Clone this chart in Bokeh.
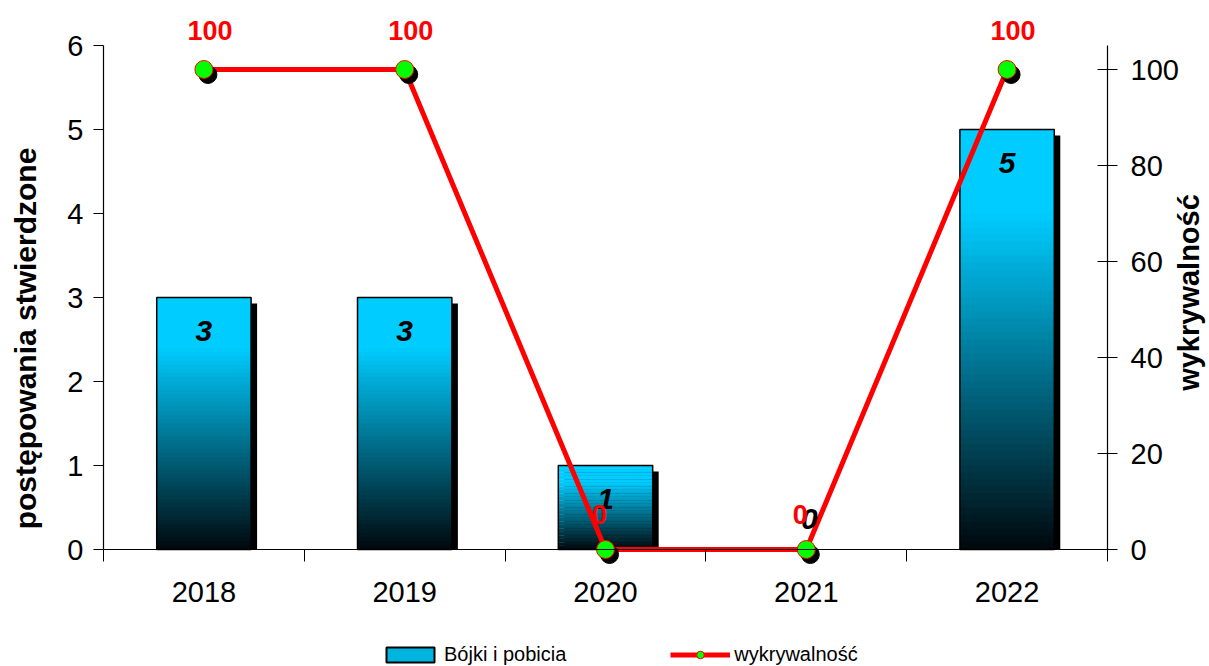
import numpy as np
from bokeh.plotting import figure
from bokeh.models import (Range1d, LinearAxis, FixedTicker, ColumnDataSource,
                          Legend, LegendItem)
from bokeh.core.properties import value
from bokeh.embed import file_html
from bokeh.resources import INLINE

# ---------------- data ----------------
years = ["2018", "2019", "2020", "2021", "2022"]
cases = [3, 3, 1, 0, 5]                  # postępowania stwierdzone (left axis)
detection = [100, 100, 0, 0, 100]        # wykrywalność (right axis)
left_ticks = [0, 1, 2, 3, 4, 5, 6]
right_ticks = [0, 20, 40, 60, 80, 100]
bar_series_name = "Bójki i pobicia"
line_series_name = "wykrywalność"
left_title = "postępowania stwierdzone"
right_title = "wykrywalność"

# ---------------- layout (pixels) ----------------
W, H = 1209, 666
AX_LEFT, AX_BOTTOM = 103, 549     # where the axes cross, in canvas pixels
AXIS_W = 1004                     # pixel length of the category axis
AXIS_PX = 504                     # pixel length of the value axes
X_MAX = len(years)
Y_MAX = 6
R_MAX = 105
px_x = X_MAX / AXIS_W
px_y = Y_MAX / AXIS_PX
px_r = R_MAX / AXIS_PX

FONT = "'Liberation Sans', Arial, sans-serif"
BAR_W = 0.47

xc = [i + 0.5 for i in range(len(years))]

p = figure(width=W, height=H, output_backend="svg", toolbar_location=None,
           x_range=Range1d(-AX_LEFT * px_x, (W - AX_LEFT) * px_x),
           y_range=Range1d((AX_BOTTOM - H) * px_y, AX_BOTTOM * px_y),
           min_border_left=0, min_border_right=0, min_border_top=0,
           min_border_bottom=0)
p.extra_y_ranges = {"right": Range1d((AX_BOTTOM - H) * px_r, AX_BOTTOM * px_r)}
p.title.visible = False
p.outline_line_color = None
p.xgrid.visible = False
p.ygrid.visible = False
p.background_fill_color = "white"
p.border_fill_color = "white"

# ---------------- bars ----------------
top_col = np.array([0, 204, 255], dtype=float)
bot_col = np.array([0, 8, 12], dtype=float)
N = 60
sh = dict(left=[], right=[], top=[], bottom=[])
sl = dict(left=[], right=[], top=[], bottom=[], color=[])
ol = dict(left=[], right=[], top=[], bottom=[])
for x, v in zip(xc, cases):
    if v <= 0:
        continue
    l, r = x - BAR_W / 2, x + BAR_W / 2
    sh["left"].append(l + 6 * px_x); sh["right"].append(r + 6 * px_x)
    sh["top"].append(v - 6 * px_y); sh["bottom"].append(0)
    ol["left"].append(l); ol["right"].append(r); ol["top"].append(v); ol["bottom"].append(0)
    for k in range(N):
        t0, t1 = k / N, (k + 1) / N
        tm = (t0 + t1) / 2
        f = 0.0 if tm < 0.2 else (tm - 0.2) / 0.8
        c = top_col * (1 - f) + bot_col * f
        sl["left"].append(l); sl["right"].append(r)
        sl["top"].append(v * (1 - t0))
        sl["bottom"].append(max(v * (1 - t1) - v * 0.004, 0))
        sl["color"].append("#%02x%02x%02x" % tuple(int(round(a)) for a in c))

p.quad(source=ColumnDataSource(sh), left="left", right="right", top="top",
       bottom="bottom", fill_color="black", line_color=None)
p.quad(source=ColumnDataSource(sl), left="left", right="right", top="top",
       bottom="bottom", fill_color="color", line_color=None)
p.quad(source=ColumnDataSource(ol), left="left", right="right", top="top",
       bottom="bottom", fill_alpha=0, line_color="black", line_width=1.5)

# ---------------- line ----------------
line_r = p.line(xc, detection, y_range_name="right", line_color="#ff0000", line_width=5)
p.scatter([x + 4 * px_x for x in xc], [d - 5 * px_r for d in detection],
          y_range_name="right", size=18, fill_color="black", line_color="black")
pts_r = p.scatter(xc, detection, y_range_name="right", size=18,
                  fill_color="#00ff00", line_color="#ff0000", line_width=1)

# bar value labels
bl_off = [33 if v > 0 else -31 for v in cases]
bl_xoff = [0 if v > 0 else 3 for v in cases]
p.text(x=xc, y=cases, x_offset=bl_xoff, y_offset=bl_off, text=[str(v) for v in cases],
       text_font=value(FONT), text_font_size="30px", text_font_style="bold italic",
       text_color="black", text_align="center", text_baseline="middle")

# line value labels
ll_xoff = [6 if d > 0 else -6 for d in detection]
ll_yoff = [-39 if d > 0 else -35 for d in detection]
p.text(x=xc, y=detection, x_offset=ll_xoff, y_offset=ll_yoff, y_range_name="right",
       text=[str(d) for d in detection], text_font=value(FONT), text_font_size="27px",
       text_font_style="bold", text_color="#ff0000", text_align="center",
       text_baseline="alphabetic")

# ---------------- axes ----------------
xa = p.xaxis[0]
xa.fixed_location = 0
xa.ticker = FixedTicker(ticks=xc, minor_ticks=list(range(0, X_MAX + 1)))
xa.bounds = (0, X_MAX)
xa.major_label_overrides = {x: y for x, y in zip(xc, years)}
xa.major_tick_out = 0
xa.major_tick_in = 0
xa.minor_tick_out = 12
xa.minor_tick_in = 0
xa.minor_tick_line_color = "black"
xa.axis_line_color = "black"
xa.axis_line_width = 1.2
xa.major_label_standoff = 20
xa.major_label_text_font = FONT
xa.major_label_text_font_size = "29px"
xa.major_label_text_color = "black"

ya = p.yaxis[0]
ya.fixed_location = 0
ya.ticker = FixedTicker(ticks=left_ticks)
ya.bounds = (0, Y_MAX)
ya.major_tick_out = 10
ya.major_tick_in = 0
ya.minor_tick_out = 0
ya.minor_tick_in = 0
ya.axis_line_color = "black"
ya.axis_line_width = 1.2
ya.major_tick_line_color = "black"
ya.major_label_standoff = 10
ya.major_label_text_font = FONT
ya.major_label_text_font_size = "29px"
ya.major_label_text_color = "black"

ra = LinearAxis(y_range_name="right", ticker=FixedTicker(ticks=right_ticks),
                bounds=(0, R_MAX), fixed_location=X_MAX)
ra.major_tick_out = 10
ra.major_tick_in = 10
ra.minor_tick_out = 0
ra.minor_tick_in = 0
ra.axis_line_color = "black"
ra.axis_line_width = 1.2
ra.major_tick_line_color = "black"
ra.major_label_standoff = 13
ra.major_label_text_font = FONT
ra.major_label_text_font_size = "29px"
ra.major_label_text_color = "black"
p.add_layout(ra, "right")

# axis titles
p.text(x=[(25 - AX_LEFT) * px_x], y=[(AX_BOTTOM - 338) * px_y],
       text=[left_title], angle=np.pi / 2, text_font=value(FONT),
       text_font_size="30px", text_font_style="bold", text_color="black",
       text_align="center", text_baseline="middle")
p.text(x=[X_MAX + 81 * px_x], y=[(AX_BOTTOM - 292) * px_r], y_range_name="right",
       text=[right_title], angle=np.pi / 2, text_font=value(FONT),
       text_font_size="29px", text_font_style="bold", text_color="black",
       text_align="center", text_baseline="middle")

# ---------------- legend ----------------
leg_bar = p.quad(left=[-50], right=[-49], top=[-50], bottom=[-51], fill_color="#00b4e0",
                 line_color="black", line_width=2)
legend = Legend(items=[LegendItem(label=bar_series_name, renderers=[leg_bar]),
                       LegendItem(label=line_series_name, renderers=[line_r, pts_r])],
                orientation="horizontal", location=(380, 0),
                glyph_width=60, glyph_height=19, label_standoff=4, spacing=104,
                padding=2, margin=0, border_line_color=None,
                background_fill_alpha=0,
                label_text_font=FONT, label_text_font_size="20px",
                label_text_color="black")
p.add_layout(legend, "center")

open("out.html", "w").write(file_html(p, INLINE))
